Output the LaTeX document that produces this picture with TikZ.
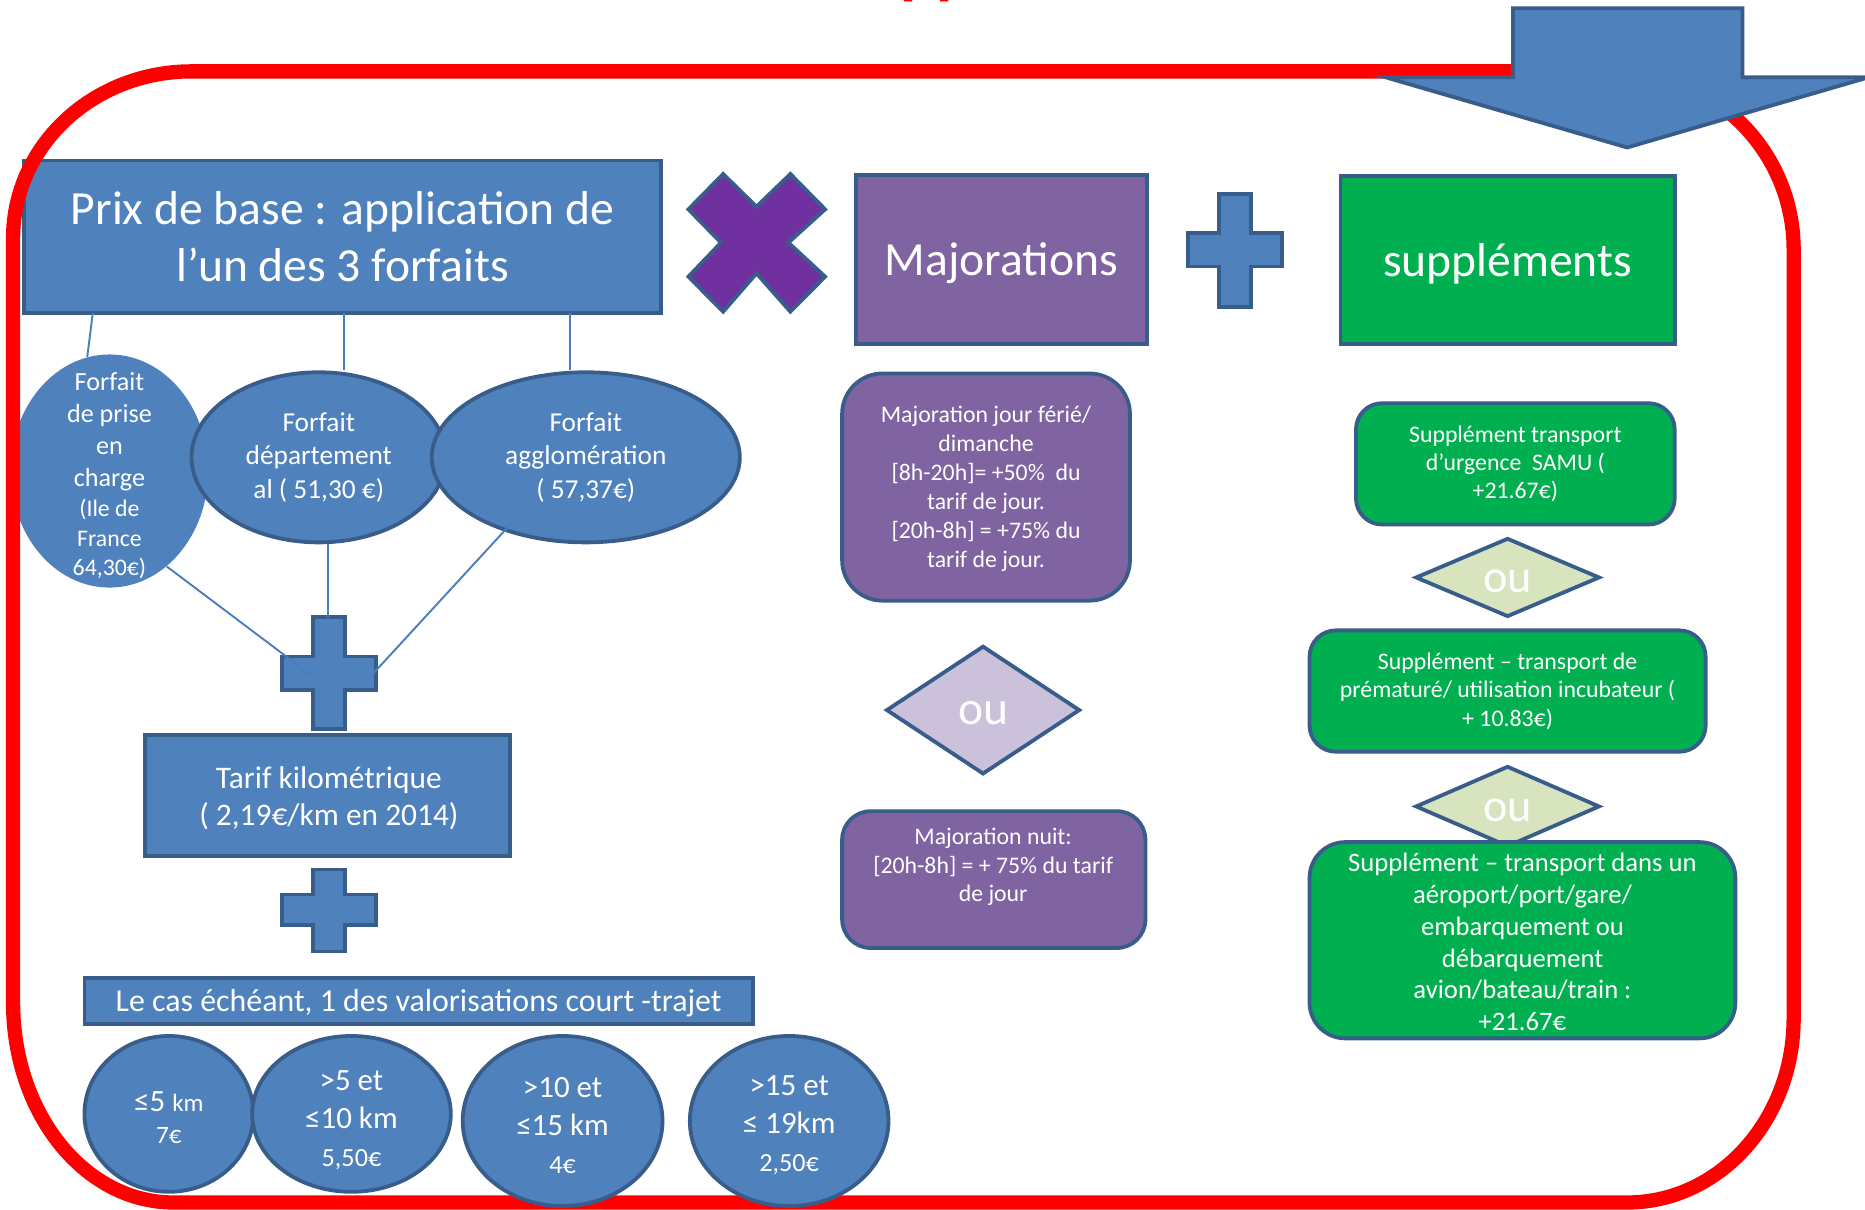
\documentclass[tikz,border=0pt]{standalone}
\usepackage{fontspec}
\setmainfont{Carlito}
\usetikzlibrary{shapes.geometric}
\definecolor{bfill}{HTML}{4F81BD}
\definecolor{bline}{HTML}{385D8A}
\definecolor{pfill}{HTML}{8064A2}
\definecolor{xfill}{HTML}{7030A0}
\definecolor{gfill}{HTML}{00B050}
\definecolor{lpfill}{HTML}{CCC1DA}
\definecolor{lgfill}{HTML}{D7E4BD}
\definecolor{connc}{HTML}{4A7EBB}
\newcommand\fsz[2]{\fontsize{#1}{#2}\selectfont}
\tikzset{
  outl/.style={draw=bline, line width=1.6pt},
  box/.style={outl, rectangle, inner sep=0pt, text=white, align=center},
  elli/.style={ellipse, outl, fill=bfill, inner sep=0pt, text=white, align=center},
  dia/.style={diamond, outl, inner sep=0pt, text=white, text height=12.5pt},
  txt/.style={text=white, align=center, inner sep=0pt},
  conn/.style={draw=connc, line width=0.8pt},
  frame/.style={draw=red, line width=6pt},
}
\begin{document}
\begin{tikzpicture}[x=0.5pt,y=-0.5pt]
\useasboundingbox (0,0) rectangle (1568,1017);

% clipped title fragment
\node[anchor=base west, text=red, inner sep=0pt, font=\fsz{28}{30}\bfseries] (ttl) at (757,-7) {pp};

% left ellipse (under the frame)
\node[ellipse, fill=bfill, minimum width=83pt, minimum height=98pt, inner sep=0pt] (ea) at (92,396) {};
\node[txt, font=\fsz{11}{13.5}] (eat) at (92,400) {Forfait\\de prise\\en\\charge\\[-1pt]\fsz{10}{12.5}(Ile de\\[-1pt]\fsz{10}{12.5}France\\[-1pt]\fsz{10}{12.5}64,30€)};

% base price box
\node[box, fill=bfill, minimum width=268pt, minimum height=64pt, font=\fsz{20}{24}] (prix) at (288,199) {Prix de base : application de\\l’un des 3 forfaits};

% red frame
\draw[frame] (161,60) -- (1358,60) .. controls (1441,60) and (1508,127) .. (1508,210)
  -- (1508,856) .. controls (1508,942) and (1445,1011) .. (1368,1011)
  -- (146,1011) .. controls (71,1011) and (11,936) .. (11,843)
  -- (11,200) .. controls (11,123) and (78,60) .. (161,60) -- cycle;

% big down arrow
\draw[outl, fill=bfill] (1272,7) -- (1465,7) -- (1465,65) -- (1571,65) -- (1368,124)
  -- (1165,65) -- (1272,65) -- cycle;

% top row boxes
\node[box, fill=pfill, minimum width=122pt, minimum height=71pt, font=\fsz{20}{24}, text depth=0pt] (maj) at (842,218) {Majorations};
\node[box, fill=gfill, minimum width=140.5pt, minimum height=70.5pt, font=\fsz{20}{24}, text depth=0pt] (sup) at (1267.5,218.5) {suppléments};

% forfait ellipses
\node[elli, minimum width=107pt, minimum height=71.5pt, font=\fsz{11.5}{14}] (eb) at (268,384.5) {Forfait\\département\\al ( 51,30 €)};
\node[elli, minimum width=129.5pt, minimum height=71.5pt, font=\fsz{11.5}{14}] (ec) at (492.5,384.5) {Forfait\\agglomération\\( 57,37€)};

% multiplication sign
\draw[outl, fill=xfill] (578.8,176) -- (608,146.3) -- (636,173.8) -- (664.5,146.3) -- (693.7,176)
  -- (662.8,204) -- (693.7,232.6) -- (664.5,262) -- (636,229.8) -- (608,262) -- (578.8,232.6)
  -- (606.2,204) -- cycle;

% plus signs
\draw[outl, fill=bfill] (1025,163) -- (1052,163) -- (1052,196) -- (1078,196) -- (1078,224) -- (1052,224)
  -- (1052,258) -- (1025,258) -- (1025,224) -- (999,224) -- (999,196) -- (1025,196) -- cycle;
\draw[outl, fill=bfill] (263,519) -- (290,519) -- (290,552) -- (316,552) -- (316,580) -- (290,580)
  -- (290,613) -- (263,613) -- (263,580) -- (237,580) -- (237,552) -- (263,552) -- cycle;
\draw[outl, fill=bfill] (263,731) -- (290,731) -- (290,752) -- (316,752) -- (316,778) -- (290,778)
  -- (290,800) -- (263,800) -- (263,778) -- (237,778) -- (237,752) -- (263,752) -- cycle;

% connectors
\coordinate (k1) at (78,263);
\coordinate (k2) at (289,263);
\coordinate (k3) at (479,263);
\coordinate (pa) at (262,568);
\coordinate (pn) at (276,519);
\coordinate (pc1) at (440,429);
\coordinate (pc2) at (314,566);
\draw[conn] (k1) -- (ea.101);
\draw[conn] (k2) -- (k2 |- eb.north);
\draw[conn] (k3) -- (k3 |- ec.north);
\draw[conn] (ea.-59) -- (pa);
\draw[conn] (pn |- eb.south) -- (pn);
\draw[conn] (pc1) -- (pc2);

% kilometre tariff
\node[box, fill=bfill, minimum width=153.5pt, minimum height=51pt, font=\fsz{13.2}{15.5}] (tarif) at (275.5,669) {};
\node[txt, font=\fsz{13.2}{15.5}] (tarift) at (276.5,671.5) {Tarif kilométrique\\( 2,19€/km en 2014)};
\node[box, fill=bfill, minimum width=281pt, minimum height=19.5pt, font=\fsz{13.4}{16}, text depth=0pt] (lecas) at (352,841.5) {Le cas échéant, 1 des valorisations court -trajet};

% short trip circles
\node[elli, minimum width=71pt, minimum height=65.5pt] (c1) at (142,936.5) {};
\node[txt, font=\fsz{13}{13.5}] (c1t) at (142,940) {≤5 {\fsz{10.5}{13.5}km}\\\fsz{10.5}{13.5}7€};
\node[elli, minimum width=83.5pt, minimum height=65.5pt] (c2) at (295.5,936.5) {};
\node[txt, font=\fsz{13}{16}] (c2t) at (295.5,941.5) {>5 et\\≤10 km\\\fsz{11}{15.5}5,50€};
\node[elli, minimum width=84pt, minimum height=71.5pt] (c3) at (473,942.5) {};
\node[txt, font=\fsz{13}{16}] (c3t) at (473,946) {>10 et\\≤15 km\\\fsz{11}{15}4€};
\node[elli, minimum width=83.5pt, minimum height=71.5pt] (c4) at (663.5,942.5) {};
\node[txt, font=\fsz{13}{16}] (c4t) at (663.5,946) {>15 et\\≤ 19km\\\fsz{11}{15}2,50€};

% majorations
\node[box, rounded corners=17pt, fill=pfill, minimum width=121pt, minimum height=95.5pt] (m1) at (829,409.5) {};
\node[txt, font=\fsz{10}{12.15}] (m1t) at (829,411) {Majoration jour férié/\\dimanche\\{[}8h-20h]= +50\%\ \ du\\tarif de jour.\\{[}20h-8h] = +75\% du\\tarif de jour.};
\node[dia, fill=lpfill, minimum width=81.5pt, minimum height=54pt, font=\fsz{20}{24}] (d1) at (826.5,597) {ou};
\node[box, rounded corners=12pt, fill=pfill, minimum width=127.5pt, minimum height=57.5pt] (m2) at (835.5,739.5) {};
\node[txt, font=\fsz{10}{12}] (m2t) at (835,729) {Majoration nuit:\\{[}20h-8h] = + 75\% du tarif\\de jour};

% supplements
\node[box, rounded corners=11pt, fill=gfill, minimum width=134pt, minimum height=51pt, font=\fsz{10}{11.8}] (s1) at (1274,390) {Supplément transport\\d’urgence\ \ SAMU (\\+21.67€)};
\node[dia, fill=lgfill, minimum width=77.5pt, minimum height=32.5pt, font=\fsz{19.5}{22}] (d2) at (1267.5,485.5) {ou};
\node[box, rounded corners=11pt, fill=gfill, minimum width=166.5pt, minimum height=51pt, font=\fsz{10}{12}] (s2) at (1267.5,581) {Supplément – transport de\\prématuré/ utilisation incubateur (\\+ 10.83€)};
\node[dia, fill=lgfill, minimum width=77.5pt, minimum height=34pt, font=\fsz{19.5}{22}] (d3) at (1267.5,678) {ou};
\node[box, rounded corners=15pt, fill=gfill, minimum width=179pt, minimum height=82.5pt] (s3) at (1280,790.5) {};
\node[txt, font=\fsz{11.2}{13.4}] (s3t) at (1280,792) {Supplément – transport dans un\\aéroport/port/gare/\\embarquement ou\\débarquement\\avion/bateau/train :\\+21.67€};
\end{tikzpicture}
\end{document}
